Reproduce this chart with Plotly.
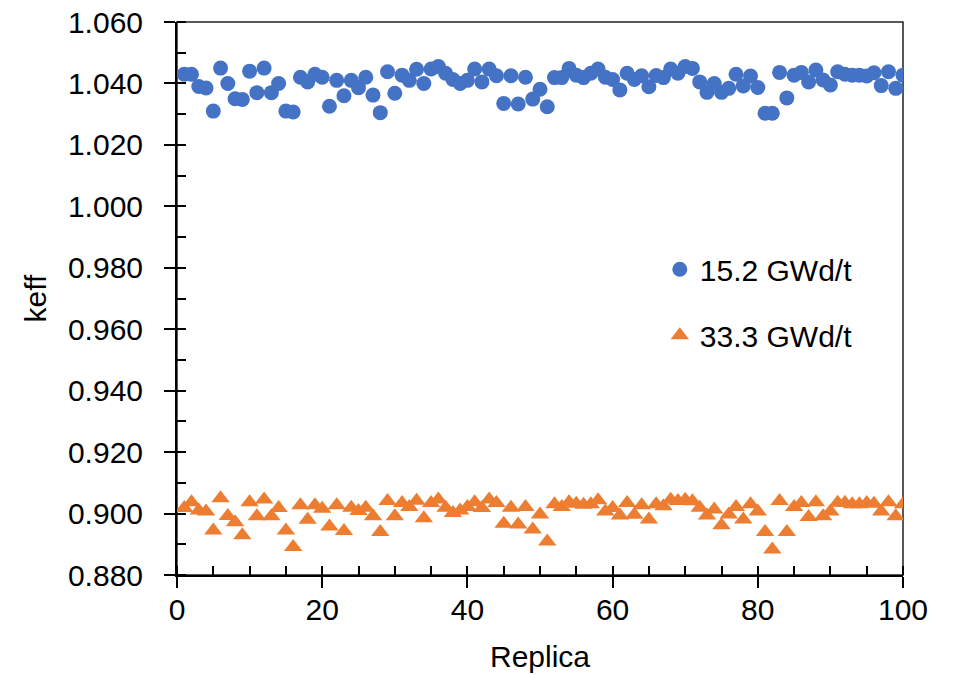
import plotly.graph_objects as go

replica = list(range(1, 101))

keff_15_2 = [
    1.0430, 1.0430, 1.0390, 1.0385, 1.0310, 1.0450, 1.0400, 1.0350, 1.0348, 1.0440,
    1.0370, 1.0450, 1.0370, 1.0400, 1.0310, 1.0307, 1.0420, 1.0405, 1.0430, 1.0420,
    1.0326, 1.0410, 1.0360, 1.0410, 1.0386, 1.0420, 1.0362, 1.0305, 1.0438, 1.0368,
    1.0427, 1.0410, 1.0446, 1.0400, 1.0447, 1.0455, 1.0433, 1.0413, 1.0400, 1.0410,
    1.0447, 1.0405, 1.0447, 1.0425, 1.0335, 1.0425, 1.0333, 1.0420, 1.0349, 1.0381,
    1.0324, 1.0419, 1.0419, 1.0449, 1.0427, 1.0419, 1.0433, 1.0447, 1.0420, 1.0413,
    1.0379, 1.0433, 1.0413, 1.0425, 1.0389, 1.0426, 1.0419, 1.0447, 1.0433, 1.0455,
    1.0449, 1.0405, 1.0371, 1.0400, 1.0371, 1.0384, 1.0430, 1.0392, 1.0424, 1.0387,
    1.0303, 1.0303, 1.0436, 1.0353, 1.0427, 1.0436, 1.0405, 1.0444, 1.0411, 1.0395,
    1.0438, 1.0430, 1.0427, 1.0427, 1.0424, 1.0435, 1.0393, 1.0438, 1.0384, 1.0427,
]

keff_33_3 = [
    0.9018, 0.9037, 0.9010, 0.9007, 0.8945, 0.9050, 0.8992, 0.8972, 0.8929, 0.9037,
    0.8991, 0.9046, 0.8991, 0.9018, 0.8945, 0.8891, 0.9027, 0.8980, 0.9027, 0.9016,
    0.8958, 0.9027, 0.8943, 0.9019, 0.9008, 0.9019, 0.8991, 0.8940, 0.9041, 0.8991,
    0.9034, 0.9021, 0.9042, 0.8985, 0.9034, 0.9046, 0.9019, 0.9002, 0.9010, 0.9021,
    0.9037, 0.9018, 0.9046, 0.9034, 0.8967, 0.9019, 0.8964, 0.9021, 0.8948, 0.8997,
    0.8909, 0.9030, 0.9021, 0.9037, 0.9032, 0.9029, 0.9030, 0.9043, 0.9007, 0.9018,
    0.8994, 0.9034, 0.8996, 0.9027, 0.8981, 0.9030, 0.9024, 0.9045, 0.9041, 0.9045,
    0.9040, 0.9019, 0.8994, 0.9013, 0.8962, 0.8997, 0.9021, 0.8981, 0.9030, 0.9007,
    0.8940, 0.8883, 0.9041, 0.8940, 0.9021, 0.9034, 0.8989, 0.9037, 0.8991, 0.9007,
    0.9035, 0.9035, 0.9030, 0.9030, 0.9034, 0.9032, 0.9007, 0.9037, 0.8991, 0.9030,
]

series_names = ["15.2 GWd/t", "33.3 GWd/t"]
x_title = "Replica"
y_title = "keff"

BLUE = "#4472C4"
ORANGE = "#ED7D31"
FONT = "Liberation Sans, Arial, sans-serif"
FS = 30

fig = go.Figure()
fig.add_trace(go.Scatter(
    x=replica, y=keff_15_2, mode="markers", name=series_names[0],
    marker=dict(symbol="circle", size=15, color=BLUE),
    legendgroup="a",
))
fig.add_trace(go.Scatter(
    x=replica, y=keff_33_3, mode="markers", name=series_names[1],
    marker=dict(symbol="triangle-up", size=16, color=ORANGE),
    legendgroup="b",
))
# invisible helper trace for overlay axes (inside half of crossing ticks)
fig.add_trace(go.Scatter(x=[None], y=[None], xaxis="x2", yaxis="y2",
                         showlegend=False, hoverinfo="skip"))

fig.update_layout(
    width=955, height=675,
    margin=dict(l=177, r=52, t=22, b=100),
    paper_bgcolor="white", plot_bgcolor="white",
    font=dict(family=FONT, size=FS, color="black"),
    showlegend=True,
    legend=dict(
        x=0.665, y=0.60, xanchor="left", yanchor="top",
        bgcolor="rgba(0,0,0,0)", font=dict(size=FS),
        tracegroupgap=24, traceorder="grouped",
    ),
    xaxis=dict(
        range=[0, 100], dtick=20, tick0=0, automargin=False,
        showline=True, linecolor="black", linewidth=2,
        ticks="outside", ticklen=11, tickwidth=2, tickcolor="black",
        minor=dict(dtick=5, ticks="inside", ticklen=9, tickwidth=2, tickcolor="black"),
        showgrid=False, zeroline=False,
        ticklabelstandoff=-4, ticklabeloverflow="allow",
        title=dict(text=x_title, standoff=21, font=dict(size=FS)),
        tickfont=dict(size=FS),
    ),
    yaxis=dict(
        range=[0.88, 1.06], dtick=0.02, tick0=0.88, tickformat=".3f", automargin=False,
        showline=True, linecolor="black", linewidth=2,
        ticks="outside", ticklen=11, tickwidth=2, tickcolor="black",
        minor=dict(dtick=0.01, ticks="inside", ticklen=9, tickwidth=2, tickcolor="black"),
        showgrid=False, zeroline=False,
        ticklabelstandoff=15, ticklabeloverflow="allow",
        title=dict(text=y_title, standoff=12, font=dict(size=FS)),
        tickfont=dict(size=FS),
    ),
    xaxis2=dict(
        range=[0, 100], dtick=20, tick0=0, overlaying="x", anchor="y2", side="bottom",
        ticks="inside", ticklen=9, tickwidth=2, tickcolor="black", automargin=False,
        showticklabels=False, showline=False, showgrid=False, zeroline=False,
    ),
    yaxis2=dict(
        range=[0.88, 1.06], dtick=0.02, tick0=0.88, overlaying="y", anchor="x2", side="left",
        ticks="inside", ticklen=9, tickwidth=2, tickcolor="black", automargin=False,
        showticklabels=False, showline=False, showgrid=False, zeroline=False,
    ),
    shapes=[dict(
        type="rect", xref="x domain", yref="y domain", x0=0, x1=1, y0=0, y1=1,
        line=dict(color="#222222", width=1.5), layer="below",
    )],
)

fig.write_html("out.html", config={"displayModeBar": False},
               post_script="document.body.style.margin='0';")
